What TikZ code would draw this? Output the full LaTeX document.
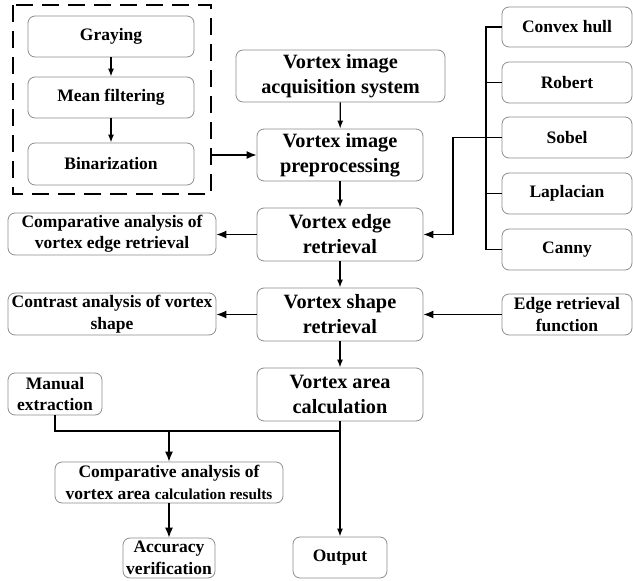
\documentclass[tikz,border=0pt]{standalone}
\usepackage{fontspec}
\setmainfont{Liberation Serif}[BoldFont={Liberation Serif Bold}]
\usetikzlibrary{arrows.meta}
\tikzset{
  box/.style={draw=black!45, line width=0.8pt, rounded corners=7pt, align=center, inner sep=1pt,
    font=\fontsize{17.5}{21.5}\selectfont\bfseries, text=black},
  bigbox/.style={box, font=\fontsize{20.3}{25}\selectfont\bfseries},
  conn/.style={line width=1.3pt, draw=black},
  arr/.style={conn, -{Latex[length=10pt,width=8pt]}},
  sarr/.style={conn, -{Latex[length=8pt,width=6pt]}},
}
\begin{document}
\begin{tikzpicture}[x=1pt,y=-1pt]
\useasboundingbox (0,0) rectangle (633,581);
% dashed group
\draw[line width=1.4pt, dash pattern=on 17pt off 9pt] (13,5) rectangle (211,194);
\coordinate (dashR) at (211,155);
\node[box, minimum width=166pt, minimum height=41pt] (gray) at (111,36.5) {Graying};
\node[box, minimum width=166pt, minimum height=41pt] (mean) at (111,97.5) {Mean filtering};
\node[box, minimum width=166pt, minimum height=42pt] (bin) at (111,164) {Binarization};
% main column
\node[bigbox, minimum width=209pt, minimum height=52pt] (acq) at (340.5,76) {Vortex image\\acquisition system};
\node[bigbox, minimum width=166pt, minimum height=52pt] (pre) at (340,155) {Vortex image\\preprocessing};
\node[bigbox, minimum width=166pt, minimum height=53pt] (edge) at (340,234.5) {Vortex edge\\retrieval};
\node[bigbox, minimum width=166pt, minimum height=53pt] (shape) at (340,314.5) {Vortex shape\\retrieval};
\node[bigbox, minimum width=166pt, minimum height=53pt] (area) at (340,394.5) {Vortex area\\calculation};
% right column
\node[box, minimum width=130pt, minimum height=40pt] (cvx) at (567,27) {Convex hull};
\node[box, minimum width=130pt, minimum height=41pt] (rob) at (567,82.5) {Robert};
\node[box, minimum width=130pt, minimum height=41pt] (sob) at (567,137.5) {Sobel};
\node[box, minimum width=130pt, minimum height=41pt] (lap) at (567,193.5) {Laplacian};
\node[box, minimum width=130pt, minimum height=41pt] (can) at (567,249.5) {Canny};
\node[box, minimum width=130pt, minimum height=41pt] (func) at (567,314.5) {Edge retrieval\\function};
% left column
\node[box, minimum width=208pt, minimum height=42pt] (cmpE) at (112,234) {Comparative analysis of\\vortex edge retrieval};
\node[box, minimum width=208pt, minimum height=42pt] (cont) at (112,314) {Contrast analysis of vortex\\shape};
\node[box, minimum width=94pt, minimum height=42pt] (man) at (55,394) {Manual\\extraction};
\node[box, minimum width=228pt, minimum height=41pt] (cmpA) at (169,482.5) {Comparative analysis of\\vortex area {\fontsize{15.2}{18}\selectfont calculation results}};
\node[box, minimum width=92pt, minimum height=40pt] (acc) at (169,558) {Accuracy\\verification};
\node[box, minimum width=94pt, minimum height=41pt] (out) at (340,557.5) {Output};
% connectors in dashed box
\draw[sarr] (gray) -- (mean);
\draw[sarr] (mean) -- (bin);
\draw[arr] (dashR) -- (pre.west |- dashR);
% main column arrows
\draw[sarr] (acq) -- (pre);
\draw[sarr] (pre) -- (edge);
\draw[sarr] (edge) -- (shape);
\draw[sarr] (shape) -- (area);
% bus on right
\coordinate (busT) at (486,27);
\coordinate (busB) at (486,249.5);
\draw[conn] (cvx.west) -- (busT) -- (busB) -- (can.west);
\draw[conn] (rob.west) -- (rob.west -| busT);
\draw[conn] (lap.west) -- (lap.west -| busT);
\coordinate (sobK) at (453,137.5);
\draw[arr] (sob.west) -- (sobK) -- (sobK |- edge.east) -- (edge.east);
% left arrows
\draw[arr] (edge.west) -- (cmpE.east |- edge.west);
\draw[arr] (shape.west) -- (cont.east |- shape.west);
\draw[arr] (func.west) -- (shape.east |- func.west);
% bottom
\coordinate (jL) at (55,431);
\coordinate (jM) at (169,431);
\coordinate (jR) at (340,431);
\draw[conn] (man.south) -- (jL) -- (jR);
\draw[arr] (jM) -- (cmpA.north);
\draw[sarr] (area.south) -- (out.north);
\draw[arr] (cmpA.south) -- (acc.north);
\end{tikzpicture}
\end{document}
